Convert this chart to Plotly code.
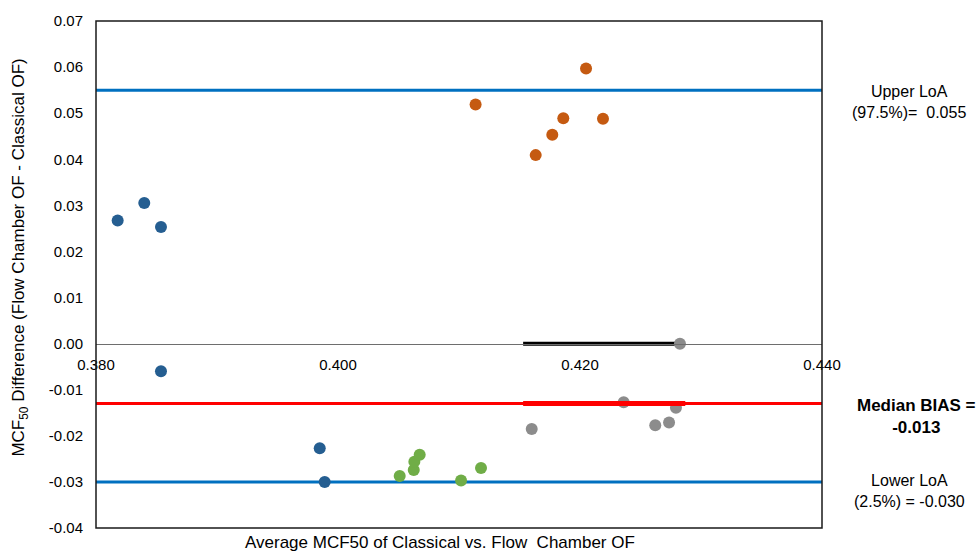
import plotly.graph_objects as go

# ---- data ----
blue_x = [0.38179, 0.38399, 0.38537, 0.38537, 0.39849, 0.39890]
blue_y = [0.0267, 0.0305, 0.0253, -0.0060, -0.0227, -0.0300]

orange_x = [0.41137, 0.42050, 0.41862, 0.41771, 0.41634, 0.42190]
orange_y = [0.0519, 0.0597, 0.0489, 0.0453, 0.0409, 0.0488]

green_x = [0.40510, 0.40626, 0.40631, 0.40675, 0.41017, 0.41182]
green_y = [-0.0287, -0.0274, -0.0256, -0.0241, -0.0297, -0.0270]

grey_x = [0.42826, 0.42361, 0.41601, 0.42622, 0.42736, 0.42793]
grey_y = [0.0000, -0.0127, -0.0185, -0.0177, -0.0171, -0.0139]

upper_loa = 0.055
median_bias = -0.013
lower_loa = -0.030
x_span = [0.380, 0.440]
seg_black_x = [0.4153, 0.4283]
seg_red_x = [0.4153, 0.4287]

y_ticks = [0.07, 0.06, 0.05, 0.04, 0.03, 0.02, 0.01, 0.00, -0.01, -0.02, -0.03, -0.04]
y_ticktext = ["0.07", "0.06", "0.05", "0.04", "0.03", "0.02", "0.01", "0.00",
              "-0.01", "-0.02", "-0.03", "-0.04"]
x_ticks = [0.380, 0.400, 0.420, 0.440]
x_ticktext = ["0.380", "0.400", "0.420", "0.440"]

FONT = "Liberation Sans, Arial, sans-serif"

fig = go.Figure()

# reference lines
fig.add_trace(go.Scatter(x=x_span, y=[upper_loa] * 2, mode="lines",
                         line=dict(color="#0070C0", width=3), hoverinfo="skip"))
fig.add_trace(go.Scatter(x=x_span, y=[lower_loa] * 2, mode="lines",
                         line=dict(color="#0070C0", width=3), hoverinfo="skip"))
fig.add_trace(go.Scatter(x=x_span, y=[median_bias] * 2, mode="lines",
                         line=dict(color="#FF0000", width=3), hoverinfo="skip"))
fig.add_trace(go.Scatter(x=seg_black_x, y=[0, 0], mode="lines",
                         line=dict(color="black", width=4), hoverinfo="skip"))

mk = dict(size=12)
fig.add_trace(go.Scatter(x=blue_x, y=blue_y, mode="markers",
                         marker=dict(color="#255E91", **mk)))
fig.add_trace(go.Scatter(x=orange_x, y=orange_y, mode="markers",
                         marker=dict(color="#C55A11", **mk)))
fig.add_trace(go.Scatter(x=green_x, y=green_y, mode="markers",
                         marker=dict(color="#70AD47", **mk)))
fig.add_trace(go.Scatter(x=grey_x, y=grey_y, mode="markers",
                         marker=dict(color="#8C8C8C", **mk)))

fig.add_trace(go.Scatter(x=seg_red_x, y=[median_bias] * 2, mode="lines",
                         line=dict(color="#FF0000", width=5), hoverinfo="skip"))

ymin, ymax = -0.04, 0.07
fig.update_layout(
    width=977, height=554,
    margin=dict(l=96, r=155, t=18, b=26),
    paper_bgcolor="white", plot_bgcolor="white",
    showlegend=False,
    font=dict(family=FONT, size=15, color="black"),
    xaxis=dict(range=x_span, tickvals=x_ticks, ticktext=x_ticktext,
               anchor="free", position=(0 - ymin) / (ymax - ymin),
               showline=True, linecolor="#6e6e6e", linewidth=1,
               showgrid=False, zeroline=False, ticks="",
               ticklabelstandoff=7,
               tickfont=dict(size=15, color="black")),
    yaxis=dict(range=[ymin, ymax], tickvals=y_ticks, ticktext=y_ticktext,
               showgrid=False, zeroline=False, showline=False, ticks="",
               ticklabelstandoff=12,
               tickfont=dict(size=15, color="black")),
    shapes=[dict(type="rect", xref="paper", yref="paper", x0=0, x1=1, y0=0, y1=1,
                 line=dict(color="#1a1a1a", width=1.5), layer="above")],
)

W, H = 726, 510  # plot area size in px


def px(xp):
    return (xp - 96) / W


def py(yp):
    return (528 - yp) / H


annots = [
    dict(text="MCF<sub>50</sub> Difference (Flow Chamber OF - Classical OF)",
         x=px(20), y=py(256), textangle=-90, font=dict(size=17)),
    dict(text="Average MCF50 of Classical vs. Flow\u00a0 Chamber OF",
         x=px(440), y=py(543), font=dict(size=17)),
    dict(text="Upper LoA<br>(97.5%)=\u00a0 0.055", x=px(909), y=py(99),
         font=dict(size=16)),
    dict(text="<b>Median BIAS =<br>-0.013</b>", x=px(916), y=py(416),
         font=dict(size=17)),
    dict(text="Lower LoA<br>(2.5%) = -0.030", x=px(909), y=py(491),
         font=dict(size=16)),
]
for a in annots:
    fig.add_annotation(xref="paper", yref="paper", showarrow=False,
                       xanchor="center", yanchor="middle", **a)

fig.write_html("out.html")
